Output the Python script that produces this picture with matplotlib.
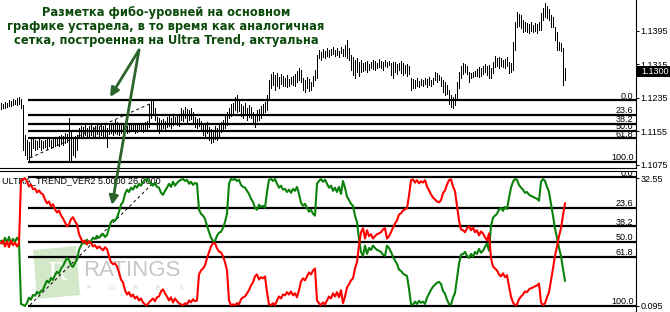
import matplotlib
matplotlib.use('Agg')
import matplotlib.pyplot as plt
import numpy as np
from matplotlib.patches import Rectangle, Polygon, FancyArrowPatch

# ---------------- data ----------------
highs = [
    1.1223, 1.1220, 1.1225, 1.1223, 1.1230, 1.1227, 1.1232, 1.1230, 1.1234, 1.1237,
    1.1232, 1.1218, 1.1146, 1.1134, 1.1130, 1.1139, 1.1139, 1.1134, 1.1132, 1.1137,
    1.1134, 1.1132, 1.1134, 1.1137, 1.1139, 1.1134, 1.1137, 1.1142, 1.1139, 1.1144,
    1.1146, 1.1144, 1.1151, 1.1149, 1.1187, 1.1158, 1.1139, 1.1144, 1.1146, 1.1163,
    1.1168, 1.1165, 1.1170, 1.1163, 1.1168, 1.1170, 1.1165, 1.1168, 1.1173, 1.1165,
    1.1170, 1.1168, 1.1173, 1.1163, 1.1170, 1.1175, 1.1173, 1.1182, 1.1177, 1.1173,
    1.1175, 1.1170, 1.1173, 1.1168, 1.1170, 1.1175, 1.1173, 1.1170, 1.1173, 1.1175,
    1.1170, 1.1173, 1.1177, 1.1180, 1.1220, 1.1230, 1.1227, 1.1211, 1.1189, 1.1187,
    1.1182, 1.1184, 1.1180, 1.1189, 1.1192, 1.1187, 1.1194, 1.1189, 1.1196, 1.1192,
    1.1211, 1.1206, 1.1213, 1.1208, 1.1206, 1.1211, 1.1201, 1.1189, 1.1184, 1.1187,
    1.1180, 1.1175, 1.1170, 1.1177, 1.1165, 1.1161, 1.1158, 1.1168, 1.1163, 1.1170,
    1.1177, 1.1182, 1.1192, 1.1201, 1.1211, 1.1220, 1.1223, 1.1237, 1.1242, 1.1232,
    1.1220, 1.1215, 1.1223, 1.1211, 1.1218, 1.1213, 1.1201, 1.1196, 1.1206, 1.1208,
    1.1215, 1.1220, 1.1225, 1.1242, 1.1277, 1.1292, 1.1296, 1.1289, 1.1294, 1.1285,
    1.1292, 1.1287, 1.1282, 1.1289, 1.1280, 1.1285, 1.1287, 1.1292, 1.1299, 1.1306,
    1.1301, 1.1282, 1.1277, 1.1285, 1.1280, 1.1273, 1.1287, 1.1301, 1.1337, 1.1349,
    1.1344, 1.1351, 1.1346, 1.1354, 1.1349, 1.1351, 1.1356, 1.1349, 1.1354, 1.1346,
    1.1356, 1.1351, 1.1361, 1.1373, 1.1354, 1.1337, 1.1332, 1.1325, 1.1330, 1.1320,
    1.1325, 1.1318, 1.1320, 1.1323, 1.1315, 1.1320, 1.1325, 1.1323, 1.1318, 1.1327,
    1.1323, 1.1320, 1.1325, 1.1320, 1.1323, 1.1318, 1.1320, 1.1320, 1.1315, 1.1318,
    1.1323, 1.1318, 1.1313, 1.1315, 1.1311, 1.1282, 1.1280, 1.1277, 1.1282, 1.1275,
    1.1280, 1.1277, 1.1282, 1.1280, 1.1285, 1.1277, 1.1282, 1.1296, 1.1294, 1.1289,
    1.1285, 1.1277, 1.1273, 1.1265, 1.1254, 1.1242, 1.1237, 1.1244, 1.1273, 1.1296,
    1.1311, 1.1318, 1.1315, 1.1311, 1.1296, 1.1294, 1.1296, 1.1299, 1.1304, 1.1308,
    1.1306, 1.1311, 1.1315, 1.1311, 1.1313, 1.1306, 1.1320, 1.1335, 1.1330, 1.1332,
    1.1330, 1.1325, 1.1327, 1.1332, 1.1320, 1.1318, 1.1368, 1.1416, 1.1439, 1.1435,
    1.1432, 1.1420, 1.1416, 1.1413, 1.1411, 1.1416, 1.1408, 1.1413, 1.1411, 1.1416,
    1.1437, 1.1449, 1.1461, 1.1454, 1.1447, 1.1432, 1.1428, 1.1404, 1.1392, 1.1368,
    1.1366, 1.1354, 1.1306,
]
lows = [
    1.1208, 1.1211, 1.1211, 1.1213, 1.1215, 1.1215, 1.1218, 1.1220, 1.1218, 1.1220,
    1.1211, 1.1111, 1.1099, 1.1089, 1.1087, 1.1096, 1.1115, 1.1111, 1.1113, 1.1118,
    1.1111, 1.1115, 1.1118, 1.1113, 1.1120, 1.1115, 1.1118, 1.1120, 1.1122, 1.1120,
    1.1125, 1.1122, 1.1127, 1.1130, 1.1087, 1.1082, 1.1099, 1.1094, 1.1111, 1.1139,
    1.1142, 1.1144, 1.1146, 1.1139, 1.1144, 1.1146, 1.1142, 1.1144, 1.1149, 1.1142,
    1.1146, 1.1139, 1.1144, 1.1118, 1.1149, 1.1151, 1.1146, 1.1151, 1.1149, 1.1146,
    1.1151, 1.1153, 1.1156, 1.1151, 1.1153, 1.1156, 1.1158, 1.1151, 1.1153, 1.1158,
    1.1156, 1.1153, 1.1158, 1.1158, 1.1165, 1.1187, 1.1194, 1.1182, 1.1158, 1.1151,
    1.1156, 1.1163, 1.1158, 1.1165, 1.1168, 1.1163, 1.1170, 1.1173, 1.1170, 1.1168,
    1.1182, 1.1180, 1.1187, 1.1177, 1.1182, 1.1184, 1.1173, 1.1165, 1.1163, 1.1168,
    1.1158, 1.1146, 1.1142, 1.1151, 1.1134, 1.1127, 1.1130, 1.1137, 1.1134, 1.1144,
    1.1153, 1.1158, 1.1163, 1.1170, 1.1187, 1.1192, 1.1194, 1.1206, 1.1201, 1.1203,
    1.1192, 1.1187, 1.1196, 1.1182, 1.1189, 1.1187, 1.1173, 1.1165, 1.1180, 1.1182,
    1.1187, 1.1199, 1.1201, 1.1206, 1.1230, 1.1258, 1.1265, 1.1254, 1.1263, 1.1258,
    1.1268, 1.1263, 1.1263, 1.1261, 1.1263, 1.1268, 1.1265, 1.1263, 1.1273, 1.1277,
    1.1273, 1.1254, 1.1249, 1.1258, 1.1251, 1.1254, 1.1263, 1.1277, 1.1282, 1.1330,
    1.1325, 1.1332, 1.1330, 1.1335, 1.1332, 1.1337, 1.1339, 1.1335, 1.1337, 1.1332,
    1.1342, 1.1335, 1.1335, 1.1330, 1.1325, 1.1301, 1.1289, 1.1282, 1.1296, 1.1287,
    1.1296, 1.1299, 1.1301, 1.1296, 1.1301, 1.1306, 1.1304, 1.1301, 1.1306, 1.1308,
    1.1306, 1.1301, 1.1311, 1.1308, 1.1313, 1.1289, 1.1282, 1.1296, 1.1292, 1.1301,
    1.1294, 1.1289, 1.1294, 1.1287, 1.1292, 1.1254, 1.1258, 1.1258, 1.1263, 1.1261,
    1.1265, 1.1263, 1.1268, 1.1261, 1.1265, 1.1263, 1.1268, 1.1277, 1.1273, 1.1277,
    1.1263, 1.1249, 1.1242, 1.1244, 1.1220, 1.1213, 1.1211, 1.1218, 1.1230, 1.1258,
    1.1282, 1.1292, 1.1296, 1.1292, 1.1273, 1.1282, 1.1285, 1.1287, 1.1287, 1.1285,
    1.1287, 1.1292, 1.1296, 1.1289, 1.1282, 1.1282, 1.1294, 1.1308, 1.1311, 1.1306,
    1.1311, 1.1308, 1.1306, 1.1311, 1.1294, 1.1296, 1.1301, 1.1349, 1.1404, 1.1406,
    1.1401, 1.1392, 1.1394, 1.1392, 1.1389, 1.1394, 1.1392, 1.1394, 1.1389, 1.1397,
    1.1397, 1.1420, 1.1428, 1.1425, 1.1420, 1.1404, 1.1404, 1.1373, 1.1349, 1.1349,
    1.1346, 1.1265, 1.1277,
]
ut_red = [
    16.0, 16.7, 15.2, 16.5, 15.0, 16.7, 15.5, 16.2, 15.2, 16.0,
    32.0, 32.2, 32.5, 31.7, 30.4, 30.9, 29.7, 29.9, 28.9, 29.4,
    28.7, 28.4, 27.1, 26.1, 26.6, 25.4, 25.9, 24.6, 23.8, 24.3,
    23.1, 22.3, 21.3, 20.3, 20.8, 22.1, 22.6, 21.6, 20.8, 18.3,
    17.2, 16.2, 16.7, 15.7, 16.5, 16.0, 15.2, 15.5, 14.7, 15.2,
    14.7, 14.2, 15.0, 14.5, 12.7, 11.2, 10.7, 10.9, 10.1, 8.6,
    6.8, 6.1, 4.1, 3.0, 3.6, 2.5, 3.0, 2.0, 2.5, 1.5,
    2.0, 1.0, 0.5, 0.3, 1.0, 1.5, 2.0, 1.3, 2.3, 2.5,
    3.8, 4.3, 3.3, 2.5, 1.5, 2.3, 1.0, 2.0, 1.3, 0.8,
    0.5, 0.3, 0.8, 0.5, 1.5, 1.0, 1.8, 1.3, 1.5, 8.1,
    9.1, 9.6, 10.4, 12.2, 13.7, 15.2, 16.0, 16.0, 14.7, 13.9,
    13.7, 12.7, 11.2, 9.1, 1.5, 0.3, 0.5, 0.3, 0.8, 0.5,
    1.8, 2.3, 2.5, 3.3, 4.1, 5.3, 6.1, 7.6, 8.1, 6.8,
    7.4, 7.1, 7.6, 3.6, 0.5, 0.3, 0.8, 0.3, 1.5, 2.5,
    2.0, 3.0, 2.8, 3.6, 3.0, 3.8, 2.8, 3.3, 2.3, 4.1,
    6.3, 7.1, 6.6, 7.6, 8.6, 8.1, 9.1, 9.6, 1.5, 0.8,
    0.3, 1.0, 0.5, 1.5, 2.5, 2.0, 3.3, 2.5, 3.6, 2.3,
    4.1, 0.8, 2.5, 4.8, 5.6, 6.6, 7.1, 9.6, 11.2, 15.5,
    18.8, 19.8, 17.2, 19.3, 17.8, 18.3, 17.2, 17.8, 18.3, 18.5,
    18.8, 19.5, 19.8, 17.2, 17.8, 18.8, 20.0, 21.0, 21.8, 23.3,
    23.6, 24.3, 24.6, 24.9, 28.1, 32.0, 32.2, 31.4, 32.0, 31.2,
    31.7, 31.4, 32.0, 30.4, 29.4, 28.4, 27.6, 27.1, 26.6, 26.4,
    26.9, 28.7, 29.4, 30.9, 32.0, 32.2, 30.4, 29.2, 25.6, 21.8,
    19.5, 19.3, 18.8, 19.8, 20.3, 19.3, 20.0, 18.8, 19.3, 18.0,
    19.0, 18.5, 17.5, 16.7, 18.5, 12.2, 10.1, 9.6, 9.1, 8.1,
    7.6, 8.4, 7.4, 7.9, 5.1, 2.5, 1.0, 0.3, 0.5, 1.8,
    2.5, 3.0, 3.8, 3.6, 4.3, 4.6, 4.8, 5.1, 5.3, 5.8,
    1.0, 0.3, 0.8, 2.3, 3.6, 6.6, 9.6, 12.9, 15.2, 17.8,
    19.8, 23.1, 26.1,
]
ut_green = [
    16.6, 15.9, 17.4, 16.1, 17.6, 15.9, 17.1, 16.4, 17.4, 16.6,
    0.6, 0.4, 0.1, 0.9, 2.2, 1.7, 2.9, 2.7, 3.7, 3.2,
    3.9, 4.2, 5.5, 6.5, 6.0, 7.2, 6.7, 8.0, 8.8, 8.3,
    9.5, 10.3, 11.3, 12.3, 11.8, 10.5, 10.0, 11.0, 11.8, 14.3,
    15.4, 16.4, 15.9, 16.9, 16.1, 16.6, 17.4, 17.1, 17.9, 17.4,
    17.9, 18.4, 17.6, 18.1, 19.9, 21.4, 21.9, 21.7, 22.5, 24.0,
    25.8, 26.5, 28.5, 29.6, 29.0, 30.1, 29.6, 30.6, 30.1, 31.1,
    30.6, 31.6, 32.1, 32.3, 31.6, 31.1, 30.6, 31.3, 30.3, 30.1,
    28.8, 28.3, 29.3, 30.1, 31.1, 30.3, 31.6, 30.6, 31.3, 31.8,
    32.1, 32.3, 31.8, 32.1, 31.1, 31.6, 30.8, 31.3, 31.1, 24.5,
    23.5, 23.0, 22.2, 20.4, 18.9, 17.4, 16.6, 16.6, 17.9, 18.7,
    18.9, 19.9, 21.4, 23.5, 31.1, 32.3, 32.1, 32.3, 31.8, 32.1,
    30.8, 30.3, 30.1, 29.3, 28.5, 27.3, 26.5, 25.0, 24.5, 25.8,
    25.2, 25.5, 25.0, 29.0, 32.1, 32.3, 31.8, 32.3, 31.1, 30.1,
    30.6, 29.6, 29.8, 29.0, 29.6, 28.8, 29.8, 29.3, 30.3, 28.5,
    26.3, 25.5, 26.0, 25.0, 24.0, 24.5, 23.5, 23.0, 31.1, 31.8,
    32.3, 31.6, 32.1, 31.1, 30.1, 30.6, 29.3, 30.1, 29.0, 30.3,
    28.5, 31.8, 30.1, 27.8, 27.0, 26.0, 25.5, 23.0, 21.4, 17.1,
    13.8, 12.8, 15.4, 13.3, 14.8, 14.3, 15.4, 14.8, 14.3, 14.1,
    13.8, 13.1, 12.8, 15.4, 14.8, 13.8, 12.6, 11.6, 10.8, 9.3,
    9.0, 8.3, 8.0, 7.7, 4.5, 0.6, 0.4, 1.2, 0.6, 1.4,
    0.9, 1.2, 0.6, 2.2, 3.2, 4.2, 5.0, 5.5, 6.0, 6.2,
    5.7, 3.9, 3.2, 1.7, 0.6, 0.4, 2.2, 3.4, 7.0, 10.8,
    13.1, 13.3, 13.8, 12.8, 12.3, 13.3, 12.6, 13.8, 13.3, 14.6,
    13.6, 14.1, 15.1, 15.9, 14.1, 20.4, 22.5, 23.0, 23.5, 24.5,
    25.0, 24.2, 25.2, 24.7, 27.5, 30.1, 31.6, 32.3, 32.1, 30.8,
    30.1, 29.6, 28.8, 29.0, 28.3, 28.0, 27.8, 27.5, 27.3, 26.8,
    31.6, 32.3, 31.8, 30.3, 29.0, 26.0, 23.0, 19.7, 17.4, 14.8,
    12.8, 9.5, 6.5,
]

fib_ratios = [0.0, 23.6, 38.2, 50.0, 61.8, 100.0]
fib_labels = ["0.0", "23.6", "38.2", "50.0", "61.8", "100.0"]
fib_price_hi, fib_price_lo = 1.1229, 1.1083      # fibo grid on the price chart
fib_ind_hi, fib_ind_lo = 32.75, 0.15             # fibo grid on Ultra Trend
fib_start_bar = 13.5
trend_price = ([14.5, 75.5], [1.1092, 1.1223])   # dashed fibo trend line, price
trend_ind = ([14.5, 75.5], [0.35, 31.0])         # dashed fibo trend line, indicator

price_ticks = [1.1395, 1.1315, 1.1235, 1.1155, 1.1075]
ind_ticks = [32.55, 0.095]
ind_tick_labels = ["32.55", "0.095"]
last_price = 1.1300

title_lines = ["Разметка фибо-уровней на основном",
               "графике устарела, в то время как аналогичная",
               "сетка, построенная на Ultra Trend, актуальна"]
ind_name = "ULTRA_TREND_VER2 5.0000 26.0000"

# ---------------- figure ----------------
W, H = 670, 312
fig = plt.figure(figsize=(W / 100, H / 100), dpi=100)
fig.patch.set_facecolor('white')

def fx(px):
    return px / W

def fy(py):
    return 1 - py / H

AXR = 636
ax1 = fig.add_axes([0, fy(168), fx(AXR), 1 - fy(168)])
ax2 = fig.add_axes([0, 0, fx(AXR), fy(171)])

NUMFONT = 'Liberation Sans'
TICKFS = 6.5

n = len(highs)
idx = np.arange(n)
for ax in (ax1, ax2):
    ax.set_xlim(-0.5, 317.5)
    ax.set_xticks([])
    ax.spines['left'].set_visible(False)
    ax.spines['right'].set_linewidth(0.8)
    ax.yaxis.tick_right()
    ax.tick_params(axis='y', direction='out', length=2.2, width=0.7,
                   labelsize=TICKFS, pad=1.2, colors='black')
    ax.set_facecolor('white')

ax1.spines['top'].set_visible(False)
ax1.spines['bottom'].set_linewidth(0.8)
ax2.spines['bottom'].set_visible(False)
ax2.spines['top'].set_linewidth(0.8)

ax1.set_ylim(1.10678, 1.14681)
ax2.set_ylim(-1.43, 34.33)

# price bars (thin 1px lines)
ax1.vlines(idx, lows, highs, colors='black', linewidth=0.55, antialiased=False, zorder=3)

# fibo grids
def draw_fib(ax, hi, lo):
    for r, lab in zip(fib_ratios, fib_labels):
        v = hi - (hi - lo) * r / 100.0
        ax.hlines(v, fib_start_bar, 317.5, colors='black', linewidth=1.6, zorder=2.5)
        t = ax.annotate(lab, xy=(316.3, v), xytext=(0, 1.2), textcoords='offset points',
                        ha='right', va='baseline', fontsize=TICKFS, family=NUMFONT,
                        color='black', zorder=4, annotation_clip=False)
        t.set_clip_on(True)
        t.set_clip_box(ax.bbox)

draw_fib(ax1, fib_price_hi, fib_price_lo)
draw_fib(ax2, fib_ind_hi, fib_ind_lo)

ax1.plot(trend_price[0], trend_price[1], color='black', lw=0.7, ls=(0, (3, 3)), zorder=3)
ax2.plot(trend_ind[0], trend_ind[1], color='black', lw=0.7, ls=(0, (3, 3)), zorder=3)

# indicator lines
ax2.plot(np.arange(len(ut_green)), ut_green, color='#0a820a', lw=1.5, zorder=3.2)
ax2.plot(np.arange(len(ut_red)), ut_red, color='#ff0000', lw=1.5, zorder=3.3)

# ticks
ax1.set_yticks(price_ticks)
ax1.set_yticklabels([f"{p:.4f}" for p in price_ticks], family=NUMFONT)
ax2.set_yticks(ind_ticks)
ax2.set_yticklabels(ind_tick_labels, family=NUMFONT)

# indicator name
ax2.text(fx(1.5), fy(181), ind_name, transform=fig.transFigure, ha='left', va='center',
         fontsize=TICKFS, family=NUMFONT, color='black', zorder=1)

# watermark logo
ax2.add_patch(Polygon([[fx(33), fy(250)], [fx(76), fy(246)], [fx(80), fy(295)], [fx(37), fy(299)]],
                      closed=True, transform=fig.transFigure, facecolor='#cfe5c3',
                      edgecolor='none', alpha=0.9, zorder=0.5))
ax2.text(fx(57), fy(273), "R", transform=fig.transFigure, ha='center', va='center',
         fontsize=18, color='white', family='DejaVu Serif', zorder=0.6)
ax2.text(fx(83), fy(271), "RATINGS", transform=fig.transFigure, ha='left', va='center',
         fontsize=16, color='#c6c6c6', family=NUMFONT, zorder=0.6)
for k, ch in enumerate("FOREX"):
    ax2.text(fx(89 + 23 * k), fy(289), ch, transform=fig.transFigure, ha='center',
             va='center', fontsize=5.5, color='#c9dcc2', family=NUMFONT, zorder=0.6)

# current price marker
fig.patches.append(Rectangle((fx(636), fy(76.5)), fx(34), 11 / H, transform=fig.transFigure,
                             facecolor='black', edgecolor='none', zorder=10))
fig.text(fx(641.5), fy(71), f"{last_price:.4f}", ha='left', va='center', fontsize=TICKFS,
         family=NUMFONT, color='white', zorder=11)

# annotation text and arrows
for k, line in enumerate(title_lines):
    fig.text(fx(166), fy(16 + 14 * k), line, ha='center', va='baseline', fontsize=8.3,
             fontweight='bold', color='#0b4a0b', family='DejaVu Sans', zorder=12)

for tip in [(110, 97), (112, 205)]:
    fig.patches.append(FancyArrowPatch((fx(139), fy(50)), (fx(tip[0]), fy(tip[1])),
                                       transform=fig.transFigure, arrowstyle='-|>',
                                       mutation_scale=13, lw=2.0, color='#2c642c',
                                       shrinkA=0, shrinkB=0, zorder=12))

fig.savefig('out.png', dpi=100, facecolor='white')
